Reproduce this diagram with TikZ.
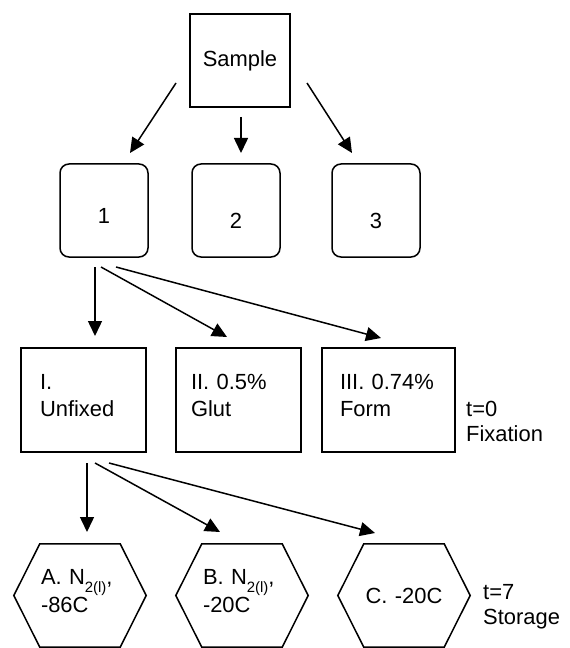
\documentclass[tikz,border=0pt]{standalone}
\usepackage{fontspec}
\setmainfont{Liberation Sans}
\usetikzlibrary{arrows.meta,calc}
\newcommand{\myhex}[1]{\draw[hexline] (#1.west) -- ($(#1.north west)+(26,0)$) -- ($(#1.north east)+(-26,0)$) -- (#1.east) -- ($(#1.south east)+(-26,0)$) -- ($(#1.south west)+(26,0)$) -- cycle;}
\newcommand{\subl}{\raisebox{-8bp}{\fontsize{15}{15}\selectfont 2(l)}}
\begin{document}
\begin{tikzpicture}[x=1bp,y=-1bp,
  every node/.style={font=\fontsize{22}{26}\selectfont},
  sq/.style={draw, line width=1.5bp, minimum width=100bp, minimum height=93bp, inner sep=0pt},
  rbox/.style={draw, line width=1.5bp, rounded corners=9bp, minimum width=88bp, minimum height=93bp, inner sep=0pt, text depth=0bp},
  fbox/.style={draw, line width=1.5bp, minimum height=104bp, align=left, text depth=36bp, font=\fontsize{22}{27}\selectfont},
  hexa/.style={minimum width=132bp, minimum height=103bp, inner xsep=27bp, inner ysep=0pt, text width=78bp, text depth=37bp, font=\fontsize{22}{28}\selectfont},
  hexline/.style={line width=1.5bp, line join=miter},
  side/.style={anchor=west, inner sep=0pt, align=left, font=\fontsize{22}{25}\selectfont},
  arr/.style={line width=1.5bp, -{Triangle[length=15bp,width=14bp]}}
]
\fill[white] (0,0) rectangle (570,648);
\useasboundingbox (0,0) rectangle (570,648);

% level 0
\node[sq] (sample) at (240,60.5) {Sample};

% level 1
\node[rbox, text height=25bp] (n1) at (104,210.5) {1};
\node[rbox, text height=35bp] (n2) at (236,210.5) {2};
\node[rbox, text height=35bp] (n3) at (376,210.5) {3};

% level 2 (fixation)
\node[fbox, inner xsep=19bp, text width=87bp] (f1) at (83.5,400) {I.\\Unfixed};
\node[fbox, inner xsep=15bp, text width=95bp] (f2) at (238.5,400) {II. 0.5\%\\Glut};
\node[fbox, inner xsep=18bp, text width=97bp] (f3) at (388.5,400) {III. 0.74\%\\Form};
\node[side] (t0) at (466,421.5) {t=0\\Fixation};

% level 3 (storage)
\node[hexa, align=left] (ha) at (80,595.5) {A. N\subl,\\-86C};
\node[hexa, align=left] (hb) at (242,595.5) {B. N\subl,\\-20C};
\node[hexa, align=center, text depth=0bp] (hc) at (404,595.5) {C. -20C};
\myhex{ha}
\myhex{hb}
\myhex{hc}
\node[side] (t7) at (483,607) {t=7\\Storage};

% arrow end points
\coordinate (s1) at (176,83);  \coordinate (e1) at (130,153);
\coordinate (s2) at (241,117); \coordinate (e2) at (241,153);
\coordinate (s3) at (307,83);  \coordinate (e3) at (352,153);

\coordinate (p1) at (95,267);  \coordinate (q1) at (95,336);
\coordinate (p2) at (101,267); \coordinate (q2) at (227,337);
\coordinate (p3) at (116,267); \coordinate (q3) at (381,338);

\coordinate (u1) at (87,463);  \coordinate (v1) at (87,532);
\coordinate (u2) at (95,463);  \coordinate (v2) at (220,532);
\coordinate (u3) at (109,463); \coordinate (v3) at (375,533);

\draw[arr] (s1) -- (e1);
\draw[arr] (s2) -- (e2);
\draw[arr] (s3) -- (e3);
\draw[arr] (p1) -- (q1);
\draw[arr] (p2) -- (q2);
\draw[arr] (p3) -- (q3);
\draw[arr] (u1) -- (v1);
\draw[arr] (u2) -- (v2);
\draw[arr] (u3) -- (v3);
\end{tikzpicture}
\end{document}
